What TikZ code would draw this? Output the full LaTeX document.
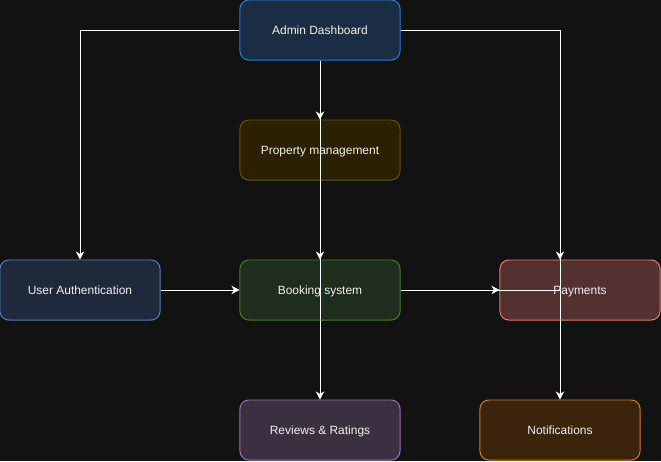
\documentclass[tikz,border=0pt]{standalone}
\usepackage{fontspec}
\setmainfont{Liberation Sans}
\usepackage{xcolor}
\usetikzlibrary{positioning,calc,arrows.meta}

\definecolor{bgcol}{HTML}{121212}
\definecolor{txtcol}{HTML}{F0F0F0}

\tikzset{
  mod/.style={draw, rounded corners=0.22cm, minimum width=4cm, minimum height=1.5cm,
    line width=0.7pt, text=txtcol, text height=8pt, text depth=1pt,
    font=\fontsize{8.5}{10}\selectfont},
  link/.style={draw=white, line width=0.7pt, -{Stealth[length=0.2cm,width=0.21cm,inset=0.06cm]}}
}

\begin{document}
\begin{tikzpicture}[x=0.025cm,y=-0.025cm]
    \fill[bgcol] (0,0) rectangle (661,461);
    \useasboundingbox (0,0) rectangle (661,461);

    \node[mod, draw={rgb,255:red,42;green,122;blue,216}, fill={rgb,255:red,27;green,45;blue,69}] (admin) at (320,30) {Admin Dashboard};
    \node[mod, draw={rgb,255:red,107;green,82;blue,0}, fill={rgb,255:red,43;green,32;blue,0}] (prop) at (320,150) {Property management};
    \node[mod, draw={rgb,255:red,91;green,125;blue,181}, fill={rgb,255:red,30;green,41;blue,59}] (auth) at (80,290) {User Authentication};
    \node[mod, draw={rgb,255:red,74;green,122;blue,42}, fill={rgb,255:red,30;green,45;blue,30}] (book) at (320,290) {Booking system};
    \node[mod, draw={rgb,255:red,224;green,122;blue,112}, fill={rgb,255:red,85;green,48;blue,48}] (pay) at (580,290) {Payments};
    \node[mod, draw={rgb,255:red,155;green,111;blue,176}, fill={rgb,255:red,59;green,48;blue,66}] (rev) at (320,430) {Reviews \& Ratings};
    \node[mod, draw={rgb,255:red,213;green,121;blue,31}, fill={rgb,255:red,58;green,37;blue,12}] (notif) at (560,430) {Notifications};

    % connectors
    \draw[link] (admin) -- (prop);
    \draw[link] (admin) -- (book);
    \draw[link] (admin) -- (rev);
    \draw[link] (admin.west) -| (auth);
    \draw[link] (admin.east) -| ($(pay.north)+(-20,0)$);
    \draw[link] (admin.east) -| (notif);
    \draw[link] (auth) -- (book);
    \draw[link] (book) -- (pay);
    \draw[white, line width=0.7pt] (book.east) -- ($(pay.center)+(-20,0)$);
\end{tikzpicture}
\end{document}
